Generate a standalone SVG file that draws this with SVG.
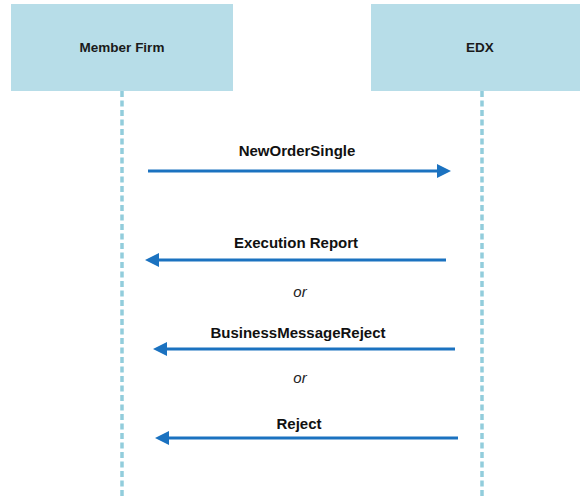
<svg xmlns="http://www.w3.org/2000/svg" width="580" height="498" viewBox="0 0 580 498">
<style>
.box{fill:#b7dde8;}
.life{stroke:#92cddc;stroke-width:3.5;stroke-dasharray:6 3.5;fill:none;}
.hdr{font-family:"Liberation Sans",Arial,sans-serif;font-weight:bold;font-size:13.5px;fill:#1a1a1a;text-anchor:middle;}
.msg{stroke:#1b72c0;stroke-width:3;fill:none;marker-end:url(#ah);}
.lbl{font-family:"Liberation Sans",Arial,sans-serif;font-weight:bold;font-size:15px;fill:#111;text-anchor:middle;}
.or{font-family:"Liberation Sans",Arial,sans-serif;font-style:italic;font-size:15px;fill:#222;text-anchor:middle;}
</style>
<defs>
<marker id="ah" markerUnits="userSpaceOnUse" markerWidth="16" markerHeight="14" refX="4" refY="7" orient="auto" viewBox="0 0 16 14">
<path d="M0,0 L14,7 L0,14 z" fill="#1b72c0"/>
</marker>
</defs>
<rect width="580" height="498" fill="#ffffff"/>
<g id="member-firm">
<rect class="box" x="11" y="4" width="222" height="87"/>
<text class="hdr" x="122" y="52">Member Firm</text>
<line class="life" x1="122" y1="91" x2="122" y2="498"/>
</g>
<g id="edx">
<rect class="box" x="371" y="4" width="209" height="87"/>
<text class="hdr" x="480" y="52">EDX</text>
<line class="life" x1="482" y1="91" x2="482" y2="498"/>
</g>
<g id="connectors">
<line class="msg" x1="148" y1="171" x2="441" y2="171"/>
<text class="lbl" x="297" y="156">NewOrderSingle</text>
<line class="msg" x1="446" y1="260" x2="155" y2="260"/>
<text class="lbl" x="296" y="248">Execution Report</text>
<text class="or" x="300" y="297">or</text>
<line class="msg" x1="455" y1="349" x2="163" y2="349"/>
<text class="lbl" x="298" y="338">BusinessMessageReject</text>
<text class="or" x="300" y="383">or</text>
<line class="msg" x1="458" y1="438" x2="165" y2="438"/>
<text class="lbl" x="299" y="429">Reject</text>
</g>
</svg>
